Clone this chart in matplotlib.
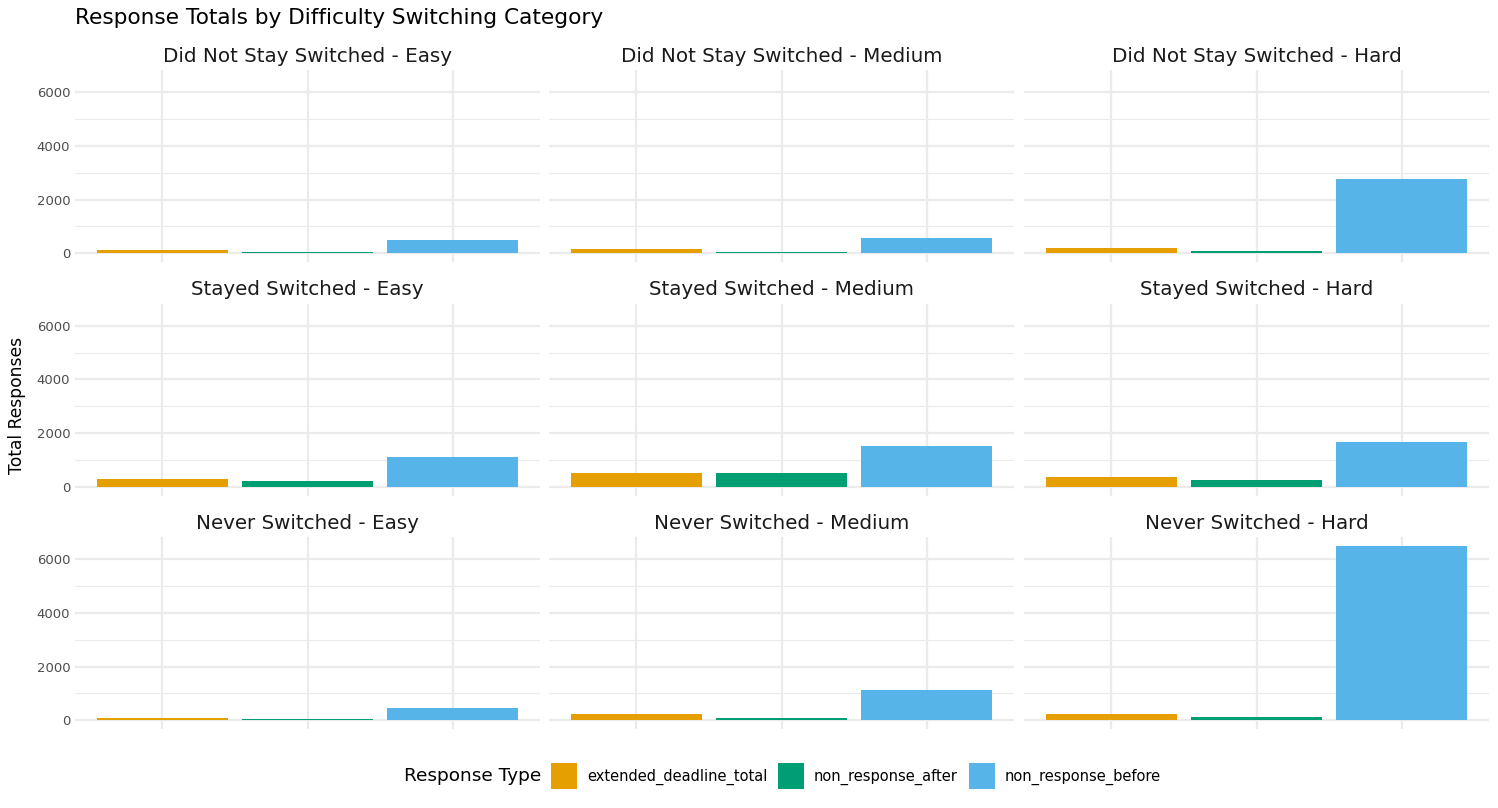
import matplotlib
matplotlib.use("Agg")
import matplotlib.pyplot as plt
from matplotlib.patches import Patch

# facet labels
switch_groups = ["Did Not Stay Switched", "Stayed Switched", "Never Switched"]
difficulties = ["Easy", "Medium", "Hard"]
response_types = ["extended_deadline_total", "non_response_after", "non_response_before"]

# totals per facet, order of response_types
extended_deadline_total = [[125, 175, 205],
                           [285, 505, 360],
                           [75, 225, 225]]
non_response_after = [[35, 60, 90],
                      [210, 505, 250],
                      [30, 75, 110]]
non_response_before = [[500, 580, 2750],
                       [1100, 1505, 1655],
                       [450, 1125, 6500]]

colors = ["#E69F00", "#009E73", "#56B4E9"]
grid_col = "#EBEBEB"

W, H = 1498, 808
fig = plt.figure(figsize=(W / 100, H / 100), dpi=100)

ymax_data = max(max(r) for r in non_response_before)
ylim = (-0.05 * ymax_data, 1.05 * ymax_data)

col_left = [75, 549, 1024]
row_top = [70, 303.5, 537]
pw, ph = 465, 192

for i, grp in enumerate(switch_groups):
    for j, diff in enumerate(difficulties):
        ax = fig.add_axes([col_left[j] / W, 1 - (row_top[i] + ph) / H, pw / W, ph / H])
        vals = [extended_deadline_total[i][j], non_response_after[i][j], non_response_before[i][j]]
        ax.bar(range(3), vals, width=0.9, color=colors, zorder=3)
        ax.set_xlim(-0.6, 2.6)
        ax.set_ylim(*ylim)
        ax.set_yticks([0, 2000, 4000, 6000])
        ax.set_yticks([1000, 3000, 5000], minor=True)
        ax.set_xticks([0, 1, 2])
        ax.set_xticklabels([])
        ax.grid(True, which="major", color=grid_col, linewidth=1.6, zorder=0)
        ax.grid(True, which="minor", axis="y", color=grid_col, linewidth=0.8, zorder=0)
        ax.tick_params(which="both", length=0, labelsize=9.5, labelcolor="#4D4D4D")
        if j != 0:
            ax.set_yticklabels([])
        for s in ax.spines.values():
            s.set_visible(False)
        ax.set_title(f"{grp} - {diff}", fontsize=14.3, color="#1A1A1A", pad=6)

fig.text(75 / W, 1 - 18 / H, "Response Totals by Difficulty Switching Category",
         fontsize=15.6, color="black", ha="left", va="center")
fig.text(17 / W, 1 - 405 / H, "Total Responses", rotation=90, fontsize=12.3,
         ha="center", va="center")

handles = [Patch(facecolor=c, edgecolor="none") for c in colors]
fig.text(404 / W, 1 - 776 / H, "Response Type", fontsize=13.3, ha="left", va="center")
fig.legend(handles, response_types, ncol=3, loc="center left",
           bbox_to_anchor=(551 / W, 1 - 776 / H), frameon=False, fontsize=10.5,
           handlelength=1.78, handleheight=2.3, handletextpad=0.68, columnspacing=0.75,
           borderaxespad=0, borderpad=0)

fig.savefig("out.png", dpi=100, facecolor="white")
